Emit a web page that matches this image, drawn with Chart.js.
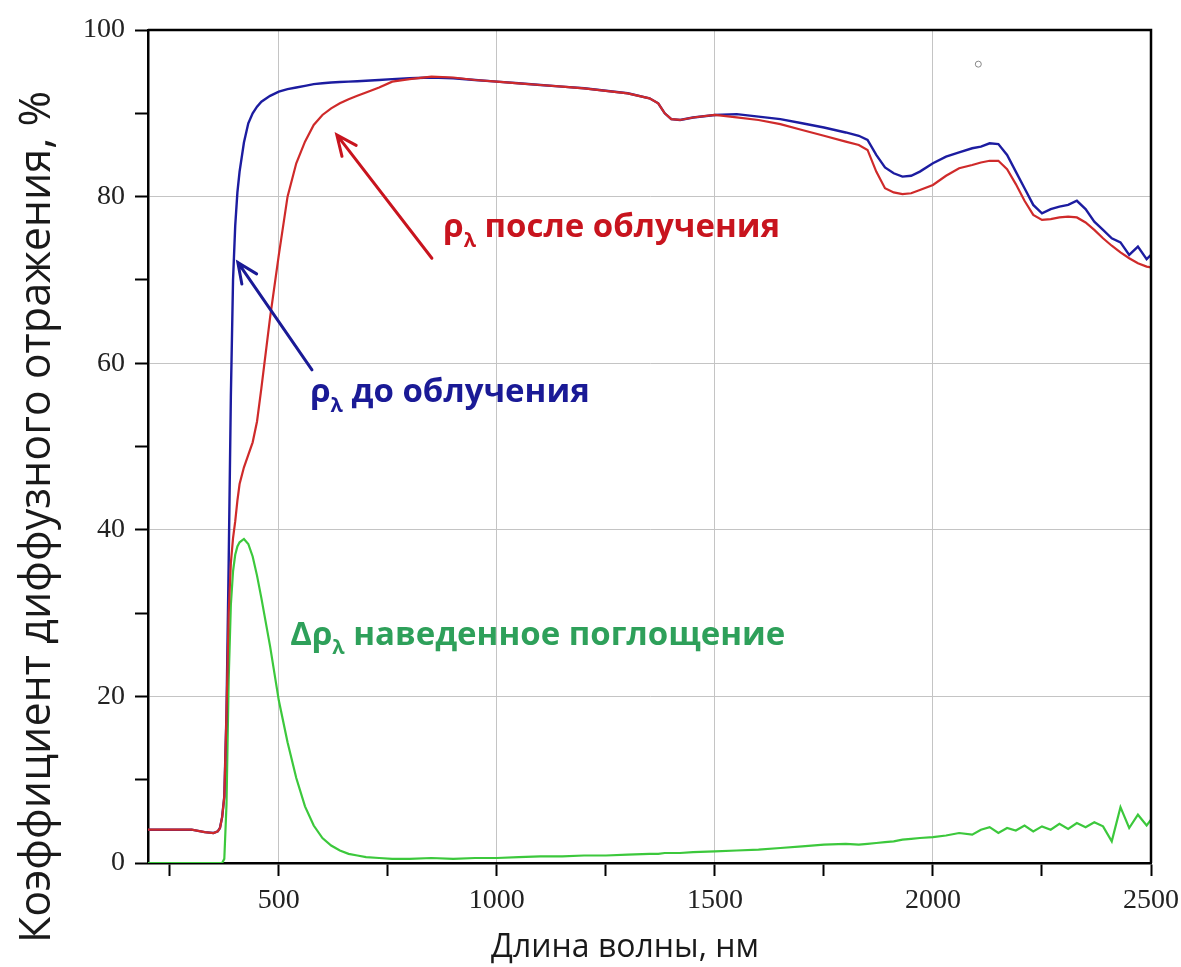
<!DOCTYPE html>
<html lang="ru">
<head>
<meta charset="utf-8">
<title>Коэффициент диффузного отражения</title>
<script src="https://cdn.jsdelivr.net/npm/chart.js@4.4.1/dist/chart.umd.min.js"></script>
<style>
  html, body { margin: 0; padding: 0; background: #fff; }
  canvas { display: block; }
</style>
</head>
<body>
<canvas id="grafico" width="1181" height="967"></canvas>
<script>
// Длины волн, нм
const wavelengths = [
  200, 250, 300, 330, 350, 360, 365, 370, 375, 380,
  385, 390, 395, 400, 405, 410, 420, 430, 440, 450,
  460, 480, 500, 520, 540, 560, 580, 600, 620, 640,
  660, 680, 700, 730, 760, 800, 850, 900, 950, 1000,
  1050, 1100, 1150, 1200, 1250, 1300, 1350, 1370, 1385, 1400,
  1420, 1450, 1500, 1550, 1600, 1650, 1700, 1750, 1800, 1830,
  1850, 1870, 1890, 1910, 1930, 1950, 1970, 2000, 2030, 2060,
  2090, 2110, 2130, 2150, 2170, 2190, 2210, 2230, 2250, 2270,
  2290, 2310, 2330, 2350, 2370, 2390, 2410, 2430, 2450, 2470,
  2490, 2500
]

// ρλ до облучения
const rhoBefore = [
  4.0, 4.0, 4.0, 3.7, 3.6, 3.8, 4.2, 5.5, 8, 18,
  36, 56, 70, 76.5, 80.5, 83, 86.5, 88.8, 90.0, 90.8,
  91.4, 92.1, 92.6, 92.9, 93.1, 93.3, 93.5, 93.6, 93.7, 93.75,
  93.8, 93.85, 93.9, 94.0, 94.1, 94.2, 94.3, 94.2, 94.0, 93.8,
  93.6, 93.4, 93.2, 93.0, 92.7, 92.4, 91.8, 91.2, 90.0, 89.3,
  89.2, 89.5, 89.8, 89.9, 89.6, 89.3, 88.8, 88.3, 87.7, 87.3,
  86.8, 85.0, 83.5, 82.8, 82.4, 82.5, 83.0, 84.0, 84.8, 85.3,
  85.8, 86.0, 86.4, 86.3, 85.0, 83.0, 81.0, 79.0, 78.0, 78.5,
  78.8, 79.0, 79.5, 78.5, 77.0, 76.0, 75.0, 74.5, 73.0, 74.0,
  72.5, 73.0
]

// ρλ после облучения
const rhoAfter = [
  4.0, 4.0, 4.0, 3.7, 3.6, 3.8, 4.2, 5.5, 8, 18,
  30, 36, 39, 41, 43.5, 45.5, 47.5, 49, 50.5, 53,
  57, 65.5, 73, 80, 84, 86.6, 88.6, 89.8, 90.6, 91.2,
  91.7, 92.1, 92.5, 93.1, 93.8, 94.1, 94.4, 94.3, 94.0, 93.8,
  93.6, 93.4, 93.2, 93.0, 92.7, 92.4, 91.8, 91.2, 90.0, 89.3,
  89.2, 89.5, 89.8, 89.5, 89.2, 88.7, 88.0, 87.3, 86.6, 86.2,
  85.6, 83.0, 81.0, 80.5, 80.3, 80.4, 80.8, 81.4, 82.5, 83.4,
  83.8, 84.1, 84.3, 84.3, 83.3, 81.5, 79.5, 77.8, 77.2, 77.3,
  77.5, 77.6, 77.5, 76.9, 76.0, 75.0, 74.1, 73.3, 72.6, 72.0,
  71.6, 71.5
]

// Δρλ наведенное поглощение
const deltaRho = [
  0, 0, 0, 0, 0, 0, 0, 0, 0.5, 7,
  22, 31, 35, 37, 38, 38.5, 38.9, 38.3, 36.8, 34.5,
  31.8, 26, 19.5, 14.5, 10.2, 6.8, 4.5, 3.0, 2.1, 1.5,
  1.1, 0.9, 0.7, 0.6, 0.5, 0.5, 0.6, 0.5, 0.6, 0.6,
  0.7, 0.8, 0.8, 0.9, 0.9, 1.0, 1.1, 1.1, 1.2, 1.2,
  1.2, 1.3, 1.4, 1.5, 1.6, 1.8, 2.0, 2.2, 2.3, 2.2,
  2.3, 2.4, 2.5, 2.6, 2.8, 2.9, 3.0, 3.1, 3.3, 3.6,
  3.4, 4.0, 4.3, 3.6, 4.2, 3.9, 4.5, 3.8, 4.4, 4.0,
  4.7, 4.1, 4.8, 4.3, 4.9, 4.4, 2.6, 6.7, 4.2, 5.8,
  4.5, 5.2
]

// Одиночный маркер в правом верхнем углу
const markerX = [2104]
const markerY = [95.9]

// Деления осей
const xTicks = [250, 500, 750, 1000, 1250, 1500, 1750, 2000, 2250, 2500]
const yTicks = [0, 10, 20, 30, 40, 50, 60, 70, 80, 90, 100]

const xTitle = 'Длина волны, нм'
const yTitle = 'Коэффициент диффузного отражения, %'

// Подписи кривых
const labels = [
  { pre: '', text: 'после облучения', at: [877, 75.1], color: '#c8141e' },
  { pre: '', text: 'до облучения', at: [572, 55.3], color: '#1a1a96' },
  { pre: 'Δ', text: 'наведенное поглощение', at: [526, 26.2], color: '#2ea05a' }
]

// Стрелки к кривым
const arrows = [
  { from: [851, 72.6], to: [633, 87.4], color: '#c8141e' },
  { from: [576, 59.2], to: [406, 72.1], color: '#1a1a96' }
]

function toPoints(xs, ys) {
  return xs.map((v, i) => ({ x: v, y: ys[i] }))
}

function drawArrow(ctx, x1, y1, x2, y2, color) {
  const ang = Math.atan2(y2 - y1, x2 - x1)
  const head = 22
  ctx.strokeStyle = color
  ctx.lineWidth = 3
  ctx.lineCap = 'round'
  ctx.beginPath()
  ctx.moveTo(x1, y1)
  ctx.lineTo(x2, y2)
  ctx.moveTo(x2 - head * Math.cos(ang - 0.42), y2 - head * Math.sin(ang - 0.42))
  ctx.lineTo(x2, y2)
  ctx.lineTo(x2 - head * Math.cos(ang + 0.42), y2 - head * Math.sin(ang + 0.42))
  ctx.stroke()
}

function drawLabel(ctx, lab, px, py) {
  const size = 33
  const big = `bold ${size}px "Open Sans"`
  const small = `bold ${Math.round(size * 0.62)}px "Open Sans"`
  ctx.fillStyle = lab.color
  ctx.textBaseline = 'alphabetic'
  ctx.textAlign = 'left'
  let x = px
  ctx.font = big
  ctx.fillText(lab.pre + 'ρ', x, py)
  x += ctx.measureText(lab.pre + 'ρ').width
  ctx.font = small
  ctx.fillText('λ', x, py + size * 0.28)
  x += ctx.measureText('λ').width
  ctx.font = big
  ctx.fillText(' ' + lab.text, x, py)
}

// Рамка, стрелки, подписи и названия осей
const overlay = {
  id: 'overlay',
  afterDatasetsDraw(chart) {
    const { ctx, chartArea: a, scales: { x, y } } = chart
    ctx.save()
    ctx.strokeStyle = '#000'
    ctx.lineWidth = 2.5
    ctx.beginPath()
    ctx.moveTo(a.left, a.top)
    ctx.lineTo(a.right, a.top)
    ctx.lineTo(a.right, a.bottom)
    ctx.stroke()

    arrows.forEach(ar => {
      drawArrow(ctx,
        x.getPixelForValue(ar.from[0]), y.getPixelForValue(ar.from[1]),
        x.getPixelForValue(ar.to[0]), y.getPixelForValue(ar.to[1]), ar.color)
    })
    labels.forEach(lab => {
      drawLabel(ctx, lab, x.getPixelForValue(lab.at[0]), y.getPixelForValue(lab.at[1]))
    })

    ctx.fillStyle = '#1a1a1a'
    ctx.font = '32px "Open Sans"'
    ctx.textAlign = 'center'
    ctx.textBaseline = 'middle'
    ctx.fillText(xTitle, 625, 948)

    ctx.translate(38, 517)
    ctx.rotate(-Math.PI / 2)
    ctx.font = '43px "Open Sans"'
    ctx.fillText(yTitle, 0, 0)
    ctx.restore()
  }
}

const tickFont = { family: '"Liberation Serif", "Times New Roman", serif', size: 28 }

new Chart(document.getElementById('grafico'), {
  type: 'line',
  data: {
    datasets: [
      {
        label: 'ρλ после облучения',
        data: toPoints(wavelengths, rhoAfter),
        borderColor: '#cf2a2a',
        borderWidth: 2.2
      },
      {
        label: 'ρλ до облучения',
        data: toPoints(wavelengths, rhoBefore),
        borderColor: '#1c1ca0',
        borderWidth: 2.4
      },
      {
        label: 'Δρλ наведенное поглощение',
        data: toPoints(wavelengths, deltaRho),
        borderColor: '#3cc83c',
        borderWidth: 2.2
      },
      {
        label: 'маркер',
        data: toPoints(markerX, markerY),
        showLine: false,
        pointRadius: 3,
        pointBorderWidth: 1,
        pointBorderColor: '#888',
        pointBackgroundColor: '#fff'
      }
    ]
  },
  options: {
    responsive: false,
    animation: false,
    parsing: false,
    elements: { point: { radius: 0 }, line: { tension: 0 } },
    layout: { padding: { top: 30, right: 30, left: 0, bottom: 0 } },
    plugins: { legend: { display: false }, tooltip: { enabled: false } },
    scales: {
      x: {
        type: 'linear',
        min: 200,
        max: 2500,
        afterBuildTicks: s => { s.ticks = xTicks.map(v => ({ value: v })) },
        afterFit: s => { s.height = 104; s.paddingRight = 0; s.paddingLeft = 0 },
        ticks: {
          autoSkip: false,
          maxRotation: 0,
          padding: 8,
          color: '#222',
          font: tickFont,
          callback: v => (v % 500 === 0 ? v : '')
        },
        grid: {
          color: c => (c.tick && c.tick.value % 500 === 0 && c.tick.value < 2500 ? '#c4c4c4' : 'rgba(0,0,0,0)'),
          lineWidth: 1,
          tickColor: '#000',
          tickWidth: 2,
          tickLength: 13
        },
        border: { color: '#000', width: 2.5 }
      },
      y: {
        type: 'linear',
        min: 0,
        max: 100,
        afterBuildTicks: s => { s.ticks = yTicks.map(v => ({ value: v })) },
        afterFit: s => { s.width = 148 },
        ticks: {
          autoSkip: false,
          padding: 10,
          color: '#222',
          font: tickFont,
          callback: v => (v % 20 === 0 ? v : '')
        },
        grid: {
          color: c => (c.tick && c.tick.value % 20 === 0 && c.tick.value > 0 && c.tick.value < 100 ? '#c4c4c4' : 'rgba(0,0,0,0)'),
          lineWidth: 1,
          tickColor: '#000',
          tickWidth: 2,
          tickLength: 13
        },
        border: { color: '#000', width: 2.5 }
      }
    }
  },
  plugins: [overlay]
})
</script>
</body>
</html>
